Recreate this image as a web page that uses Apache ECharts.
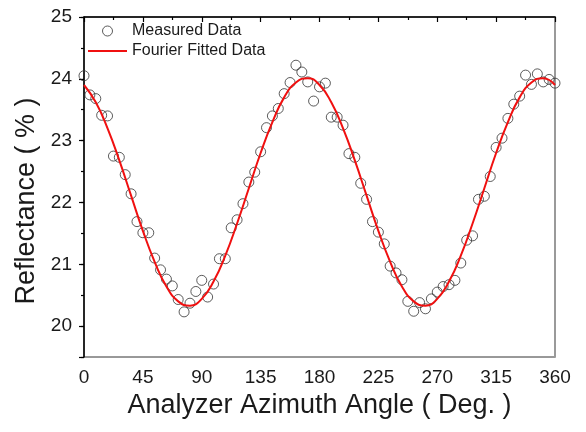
<!DOCTYPE html>
<html>
<head>
<meta charset="utf-8">
<script src="https://cdn.jsdelivr.net/npm/echarts@6/dist/echarts.min.js"></script>
<style>
    html, body { margin: 0; padding: 0; background: #fff; }
    #chart { width: 586px; height: 432px; }
</style>
</head>
<body>
<div id="chart"></div>
<script>
// measured points (deg, %)
var angles = [0, 4.5, 9, 13.5, 18, 22.5, 27, 31.5, 36, 40.5, 45, 49.5, 54, 58.5, 63, 67.5,
    72, 76.5, 81, 85.5, 90, 94.5, 99, 103.5, 108, 112.5, 117, 121.5, 126, 130.5, 135, 139.5,
    144, 148.5, 153, 157.5, 162, 166.5, 171, 175.5, 180, 184.5, 189, 193.5, 198, 202.5, 207,
    211.5, 216, 220.5, 225, 229.5, 234, 238.5, 243, 247.5, 252, 256.5, 261, 265.5, 270, 274.5,
    279, 283.5, 288, 292.5, 297, 301.5, 306, 310.5, 315, 319.5, 324, 328.5, 333, 337.5, 342,
    346.5, 351, 355.5, 360];
var measured = [24.05, 23.74, 23.68, 23.41, 23.40, 22.75, 22.73, 22.45, 22.14, 21.69, 21.51, 21.51,
    21.10, 20.91, 20.76, 20.65, 20.43, 20.23, 20.37, 20.56, 20.74, 20.47, 20.68, 21.09, 21.09,
    21.59, 21.72, 21.98, 22.33, 22.49, 22.82, 23.21, 23.40, 23.52, 23.76, 23.94, 24.22, 24.11,
    23.95, 23.64, 23.87, 23.93, 23.38, 23.38, 23.25, 22.79, 22.73, 22.31, 22.05, 21.69, 21.52,
    21.33, 20.97, 20.86, 20.75, 20.40, 20.24, 20.38, 20.28, 20.44, 20.55, 20.64, 20.67, 20.74,
    21.02, 21.39, 21.46, 22.05, 22.10, 22.42, 22.89, 23.04, 23.36, 23.59, 23.72, 24.06, 23.91,
    24.08, 23.95, 23.99, 23.93];

// fitted curve
var fitAngles = [0, 9, 18, 27, 36, 45, 54, 63, 72, 81, 90, 99, 108, 117, 126, 135, 144, 153, 162,
    171, 180, 189, 198, 207, 216, 225, 234, 243, 252, 261, 270, 279, 288, 297, 306, 315, 324,
    333, 342, 351, 360];
var fitValues = [23.90, 23.62, 23.20, 22.68, 22.11, 21.54, 21.04, 20.64, 20.40, 20.33, 20.44, 20.72,
    21.14, 21.66, 22.23, 22.80, 23.30, 23.70, 23.94, 24.01, 23.90, 23.62, 23.20, 22.68, 22.11,
    21.54, 21.04, 20.64, 20.40, 20.33, 20.44, 20.72, 21.14, 21.66, 22.23, 22.80, 23.30, 23.70,
    23.94, 24.01, 23.90];

var xTicks = { min: 0, max: 360, interval: 45 };
var yRange = { min: 19.5, max: 25 };

var font = 'Arial, "Liberation Sans", sans-serif';
var ink = '#1a1a1a';
var red = '#f01010';

function pairs(xs, ys) {
    var out = [];
    for (var i = 0; i < xs.length; i++) out.push([xs[i], ys[i]]);
    return out;
}

var chart = echarts.init(document.getElementById('chart'), null, { renderer: 'canvas' });

chart.setOption({
    animation: false,
    backgroundColor: '#fff',
    textStyle: { fontFamily: font },
    // grid border gives the dark top edge; axes paint over the other sides
    grid: {
        left: 84, right: 31, top: 17, bottom: 75, containLabel: false,
        show: true, borderColor: '#333', borderWidth: 1, backgroundColor: 'transparent'
    },
    legend: {
        orient: 'vertical',
        left: 83,
        top: 18,
        itemWidth: 39,
        itemHeight: 10,
        itemGap: 4,
        textStyle: { fontFamily: font, fontSize: 16, color: ink },
        data: [
            {
                name: 'Measured Data',
                icon: 'circle',
                itemStyle: { color: 'rgba(255,255,255,0)', borderColor: '#333', borderWidth: 1 }
            },
            {
                // thin horizontal line, corner specks keep the box 40x10
                name: 'Fourier Fitted Data',
                icon: 'path://M0,4h40v2H0z M0,0h0.01v0.01H0z M39.99,9.99h0.01v0.01h-0.01z',
                itemStyle: { color: red, borderWidth: 0 }
            }
        ]
    },
    xAxis: {
        type: 'value',
        position: 'bottom',
        min: xTicks.min,
        max: xTicks.max,
        interval: xTicks.interval,
        name: 'Analyzer Azimuth Angle ( Deg. )',
        nameLocation: 'middle',
        nameGap: 31,
        nameTextStyle: { fontFamily: font, fontSize: 27, color: ink },
        axisLine: { lineStyle: { color: '#000', width: 1.5 } },
        axisTick: { inside: false, length: 5, lineStyle: { color: '#000', width: 1.2 } },
        minorTick: { show: true, splitNumber: 2, length: 3, lineStyle: { color: '#000', width: 1.2 } },
        axisLabel: { fontFamily: font, fontSize: 19, color: ink, margin: 11 },
        splitLine: { show: false }
    },
    yAxis: [
        {
            type: 'value',
            position: 'left',
            min: yRange.min,
            max: yRange.max,
            interval: 0.5,
            axisLine: { show: true, lineStyle: { color: '#000', width: 1.5 } },
            axisTick: { show: true, length: 3, lineStyle: { color: '#000', width: 1.2 } },
            axisLabel: { show: false },
            splitLine: { show: false }
        },
        {
            // integer ticks and labels, counted down from the top (25)
            type: 'value',
            position: 'left',
            offset: 0,
            inverse: true,
            min: 0,
            max: yRange.max - yRange.min,
            interval: 1,
            name: 'Reflectance ( % )',
            nameLocation: 'middle',
            nameGap: 43,
            nameTextStyle: { fontFamily: font, fontSize: 27, color: ink, padding: [0, 28, 0, 0] },
            axisLine: { show: false },
            axisTick: { show: true, length: 5, lineStyle: { color: '#000', width: 1.2 } },
            axisLabel: {
                fontFamily: font, fontSize: 19, color: ink, margin: 12,
                formatter: function (v) { return v <= 5 ? String(yRange.max - v) : ''; }
            },
            splitLine: { show: false }
        },
        {
            type: 'value',
            position: 'right',
            min: yRange.min,
            max: yRange.max,
            axisLine: { show: true, lineStyle: { color: '#9a9a9a', width: 2 } },
            axisTick: { show: false },
            axisLabel: { show: false },
            splitLine: { show: false }
        }
    ],
    series: [
        {
            name: 'Measured Data',
            type: 'scatter',
            xAxisIndex: 0,
            yAxisIndex: 0,
            symbol: 'circle',
            symbolSize: 10,
            itemStyle: { color: 'rgba(255,255,255,0)', borderColor: '#333', borderWidth: 1 },
            data: pairs(angles, measured),
            z: 2
        },
        {
            name: 'Fourier Fitted Data',
            type: 'line',
            xAxisIndex: 0,
            yAxisIndex: 0,
            smooth: true,
            symbol: 'none',
            lineStyle: { color: red, width: 2 },
            itemStyle: { color: red },
            data: pairs(fitAngles, fitValues),
            z: 3
        }
    ]
});
</script>
</body>
</html>
